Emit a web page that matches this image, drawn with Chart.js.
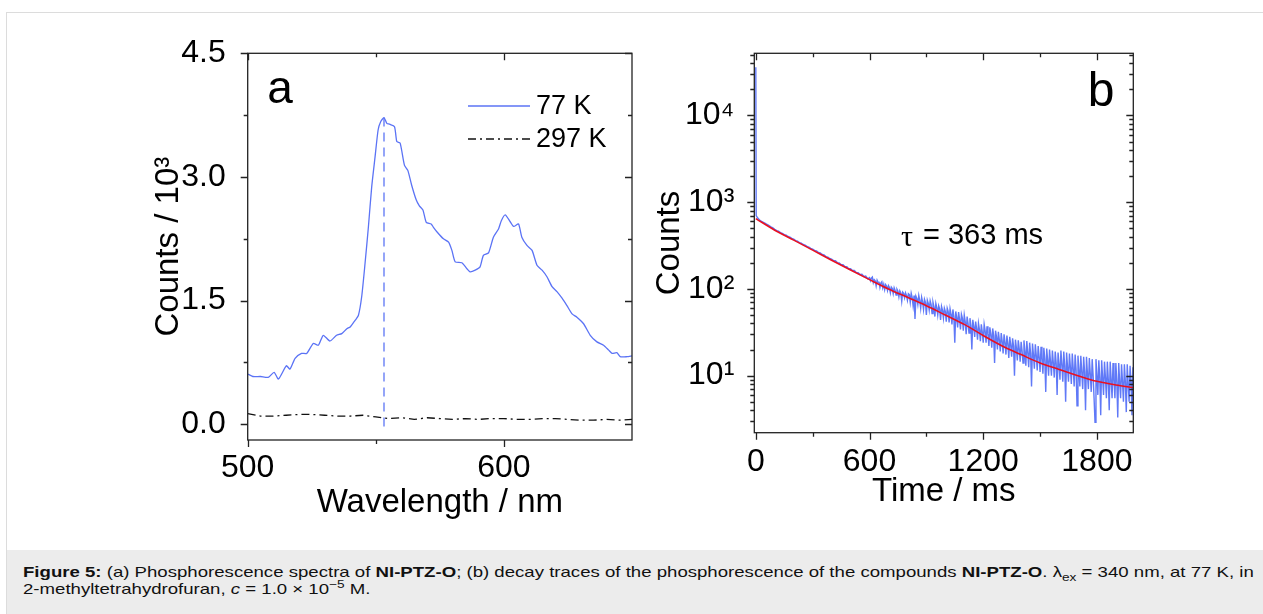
<!DOCTYPE html>
<html><head><meta charset="utf-8">
<script src="https://cdn.jsdelivr.net/npm/chart.js@4.4.1/dist/chart.umd.min.js"></script>
<style>
html,body{margin:0;padding:0;background:#fff;width:1263px;height:614px;overflow:hidden;font-family:"Liberation Sans",Arial,sans-serif;}
#frame{position:absolute;left:6px;top:12px;width:1280px;height:640px;border:1px solid #dcdcdc;box-sizing:border-box;}
#cap{position:absolute;left:7px;top:550px;width:1256px;height:64px;background:#ececec;}
#capText{position:absolute;left:23px;top:563px;font-size:15px;line-height:17px;color:#111;white-space:nowrap;transform:scaleX(1.24);transform-origin:0 0;}
#capText sub,#capText sup{font-size:11px;line-height:0;}
#ca{position:absolute;left:140px;top:30px;}
#cb{position:absolute;left:645px;top:30px;}
</style></head>
<body>
<div id="frame"></div>
<div id="cap"></div>
<div id="capText"><b>Figure 5:</b> (a) Phosphorescence spectra of <b>NI-PTZ-O</b>; (b) decay traces of the phosphorescence of the compounds <b>NI-PTZ-O</b>. λ<sub>ex</sub> = 340 nm, at 77 K, in<br>2-methyltetrahydrofuran, <i>c</i> = 1.0 × 10<sup>−5</sup> M.</div>
<canvas id="ca" width="510" height="510"></canvas>
<canvas id="cb" width="510" height="510"></canvas>
<script>
// ---------- Panel a data ----------
const wavelength77K = [500,502,505,508,510.3,512,515.1,516.5,518.5,521,523,525.6,527.6,529.5,532.1,534.7,536.7,538.7,540,541.9,543.2,544.5,545.8,547.1,548.4,549.7,550.9,551.9,553.2,554.3,555.4,557.3,558.2,559.5,561.2,562.5,564,565.8,567,568.4,569.7,571.6,572.5,574,576.4,578.4,579.7,581,583.6,585.5,586.8,588.8,590.7,592,594,595.9,597.9,599,600.5,602.4,603.8,605.7,607,609,611,612.9,614.9,616.8,618.8,620.7,622.7,624.6,626.6,628.5,631.1,633.7,636.3,638.9,640.9,642.2,644.1,645.4,648,650];
const counts77K = [0.61,0.58,0.58,0.57,0.63,0.55,0.71,0.67,0.80,0.86,0.86,0.98,0.96,1.08,1.01,1.08,1.10,1.16,1.18,1.26,1.32,1.55,1.95,2.39,2.88,3.24,3.57,3.67,3.72,3.65,3.64,3.61,3.43,3.41,3.14,3.08,2.90,2.72,2.65,2.60,2.45,2.43,2.39,2.33,2.25,2.21,2.11,1.97,1.96,1.89,1.85,1.87,1.91,2.05,2.08,2.27,2.37,2.47,2.54,2.46,2.40,2.43,2.27,2.17,2.11,1.93,1.87,1.79,1.67,1.61,1.53,1.44,1.34,1.30,1.22,1.08,1.00,0.96,0.90,0.86,0.87,0.82,0.82,0.83];
const wavelength297K = [500,505,510,515,520,525,530,535,540,545,550,555,560,565,570,575,580,585,590,595,600,605,610,615,620,625,630,635,640,645,650];
const counts297K = [0.13,0.10,0.10,0.11,0.12,0.12,0.11,0.10,0.10,0.11,0.09,0.07,0.08,0.06,0.08,0.07,0.06,0.07,0.06,0.07,0.07,0.06,0.06,0.07,0.07,0.06,0.05,0.05,0.06,0.05,0.06];
const peakWavelength = 553.2;
const peakLine = [3.72, -0.09];
const xTicksA = [500, 600];
const xMinorA = [550];
const yTicksA = [0, 1.5, 3.0, 4.5];
const yMinorA = [0.75, 2.25, 3.75];

// ---------- Panel b data ----------
const decayTime = [0,2,10,20,30,40,50,60,70,80,90,100,110,120,130,140,150,160,170,180,190,200,210,220,230,240,250,260,270,280,290,300,310,320,330,340,350,360,370,380,390,400,410,420,430,440,450,460,470,480,490,500,510,520,530,540,550,560,570,580,590,
600,605,610,615,620,625,630,635,640,645,650,655,660,665,670,675,680,685,690,695,700,705,710,715,720,725,730,735,740,745,750,755,760,765,770,775,780,785,790,795,800,
805,810,815,820,825,830,835,840,845,850,855,860,865,870,875,880,885,890,895,900,905,910,915,920,925,930,935,940,945,950,955,960,965,970,975,980,985,990,995,1000,
1005,1010,1015,1020,1025,1030,1035,1040,1045,1050,1055,1060,1065,1070,1075,1080,1085,1090,1095,1100,1105,1110,1115,1120,1125,1130,1135,1140,1145,1150,1155,1160,1165,1170,1175,1180,1185,1190,1195,1200,
1205,1210,1215,1220,1225,1230,1235,1240,1245,1250,1255,1260,1265,1270,1275,1280,1285,1290,1295,1300,1305,1310,1315,1320,1325,1330,1335,1340,1345,1350,1355,1360,1365,1370,1375,1380,1385,1390,1395,1400,
1405,1410,1415,1420,1425,1430,1435,1440,1445,1450,1455,1460,1465,1470,1475,1480,1485,1490,1495,1500,1505,1510,1515,1520,1525,1530,1535,1540,1545,1550,1555,1560,1565,1570,1575,1580,1585,1590,1595,1600,
1605,1610,1615,1620,1625,1630,1635,1640,1645,1650,1655,1660,1665,1670,1675,1680,1685,1690,1695,1700,1705,1710,1715,1720,1725,1730,1735,1740,1745,1750,1755,1760,1765,1770,1775,1780,1785,1790,1795,1800,
1805,1810,1815,1820,1825,1830,1835,1840,1845,1850,1855,1860,1865,1870,1875,1880,1885,1890,1895,1900,1905,1910,1915,1920,1925,1930,1935,1940,1945,1950,1955,1960,1965,1970,1975,1980,1985,1990];
const decayCounts = [36000,700,655,622,600,586,570,553,538,520,505,486,470,462,446,437,423,416,402,396,382,376,361,355,342,337,325,320,309,303,293,288,278,274,264,260,249,246,236,233,224,221,212,211,201,199,191,190,181,180,171,171,163,163,155,154,147,148,139,141,131,
135,124,133,137,118,128,124,108,126,119,121,104,117,121,103,113,98,112,108,96,109,104,90,105,101,88,103,96,85,99,94,81,95,90,72,92,89,79,90,84,74,
88,86,70,89,80,64,84,45,82,77,66,84,74,60,80,71,58,76,70,50,74,68,57,73,66,52,70,62,48,68,61,50,64,59,44,63,57,46,60,55,
42,60,55,41,59,51,39,58,48,24,55,47,36,54,45,34,51,46,33,50,42,30,48,40,31,46,38,20,44,37,28,42,35,26,40,34,25,39,32,24,
39,33,24,37,31,22,36,30,21,35,29,14,33,28,20,32,26,19,31,25,18,30,24,17.5,29,23.5,16,28,22.5,16.5,27,22,10,26,21,15,25.5,20.5,14.5,24.5,
19.5,14,25.5,19,13,25,18.5,12.5,24,18,7.5,23.5,17.5,12,23,17,11.5,22,16.5,11,21.5,16,10.5,21,15.5,6.5,20.5,15,10,20,14.5,10,19.5,14,9.5,19,14,6,18.5,13.5,
9,19.5,13.5,8.5,19,13,5,18.5,12.5,8.5,18,12.5,8,18,12,7.5,17.5,12,4.5,17,11.5,7.5,17,11,7,16.5,11,4,16.5,10.5,7,16,10.5,6.5,15.5,10,5.5,2.9,15.5,10,
6,15,9.5,3.5,15,9.5,6,14.5,9.5,5.5,14.5,9,4,14.5,9,5.5,14,9,5.5,14,8.5,3.3,14,8.5,5.5,13.5,8.5,5,13.5,8.5,3.8,13.5,8,5,13,8.5,3.5,12.5];
const fitTime = [0,100,200,300,400,500,600,700,800,900,1000,1100,1200,1300,1400,1500,1600,1700,1800,1900,1990];
const fitCounts = [646,475,365,280,214,165,128,100,80,64,50,39,29,22,17.5,14,11.8,10,8.6,7.8,7.3];
const xTicksB = [0, 600, 1200, 1800];
const xMinorB = [300, 900, 1500];
const yTicksB = [10, 100, 1000, 10000];
const yMinorB = [3,4,5,6,7,8,9,20,30,40,50,60,70,80,90,200,300,400,500,600,700,800,900,2000,3000,4000,5000,6000,7000,8000,9000,20000,30000,40000,50000];

// ---------- helpers ----------
const FONT = '"Liberation Sans", Arial, sans-serif';
Chart.defaults.font.family = FONT;
Chart.defaults.color = '#000';
const BLUE = '#5b73f5';
const sup = {'0':'⁰','1':'¹','2':'²','3':'³','4':'⁴','5':'⁵','6':'⁶','7':'⁷','8':'⁸','9':'⁹'};
const pts = (xs, ys) => xs.map((x, i) => ({x, y: ys[i]}));
const noPad = s => { s.paddingTop = 0; s.paddingBottom = 0; s.paddingLeft = 0; s.paddingRight = 0; };

const framePlugin = {
  id: 'frame',
  afterDraw(chart, args, o) {
    const {ctx, chartArea: {left, right, top, bottom}, scales: {x, y}} = chart;
    ctx.save();
    ctx.strokeStyle = '#222';
    ctx.lineWidth = 1.3;
    ctx.strokeRect(left, top, right - left, bottom - top);
    ctx.beginPath();
    const vx = (vals, len) => vals.forEach(v => {
      const p = Math.round(x.getPixelForValue(v)) + 0.5;
      ctx.moveTo(p, bottom); ctx.lineTo(p, bottom + len);
      ctx.moveTo(p, top); ctx.lineTo(p, top + len);
    });
    const vy = (vals, len) => vals.forEach(v => {
      const p = Math.round(y.getPixelForValue(v)) + 0.5;
      ctx.moveTo(left, p); ctx.lineTo(left - len, p);
      ctx.moveTo(right, p); ctx.lineTo(right - len, p);
    });
    vx(o.xMajor, o.major); vx(o.xMinor, o.minor);
    vy(o.yMajor, o.major); vy(o.yMinor, o.minor);
    ctx.stroke();
    ctx.restore();
  }
};

const annotPlugin = {
  id: 'annot',
  afterDraw(chart, args, o) {
    const ctx = chart.ctx;
    const ox = o.ox, oy = o.oy;
    ctx.save();
    (o.lines || []).forEach(l => {
      ctx.beginPath();
      ctx.strokeStyle = l.color; ctx.lineWidth = l.width;
      ctx.setLineDash(l.dash || []);
      ctx.moveTo(l.x1 - ox, l.y - oy); ctx.lineTo(l.x2 - ox, l.y - oy);
      ctx.stroke();
    });
    ctx.setLineDash([]);
    (o.texts || []).forEach(t => {
      ctx.font = t.font;
      ctx.fillStyle = '#000';
      ctx.textAlign = t.align || 'left';
      ctx.textBaseline = 'middle';
      ctx.fillText(t.text, t.x - ox, t.y - oy);
    });
    ctx.restore();
  }
};

// ---------- Chart a ----------
new Chart(document.getElementById('ca'), {
  type: 'line',
  data: {
    datasets: [
      {label: '297 K', data: pts(wavelength297K, counts297K), borderColor: '#111', borderWidth: 1.3, borderDash: [8, 4, 2, 4], pointRadius: 0},
      {label: 'peak', data: pts([peakWavelength, peakWavelength], peakLine), borderColor: BLUE, borderWidth: 1.3, borderDash: [9, 6], pointRadius: 0},
      {label: '77 K', data: pts(wavelength77K, counts77K), borderColor: BLUE, borderWidth: 1.3, pointRadius: 0, tension: 0.2}
    ]
  },
  options: {
    responsive: false, animation: false, devicePixelRatio: 1,
    layout: {padding: {top: 23.3, right: 18, bottom: 0, left: 0}},
    plugins: {
      legend: {display: false}, tooltip: {enabled: false},
      frame: {xMajor: xTicksA, xMinor: xMinorA, yMajor: yTicksA, yMinor: yMinorA, major: 7, minor: 4},
      annot: {
        ox: 140, oy: 30,
        lines: [
          {x1: 468, x2: 530, y: 106, color: BLUE, width: 1.3},
          {x1: 468, x2: 530, y: 139, color: '#111', width: 1.3, dash: [8, 4, 2, 4]}
        ],
        texts: [
          {text: 'a', x: 280, y: 90, font: '46px ' + FONT, align: 'center'},
          {text: '77 K', x: 536, y: 107, font: '27px ' + FONT},
          {text: '297 K', x: 536, y: 140, font: '27px ' + FONT}
        ]
      }
    },
    scales: {
      x: {
        type: 'linear', min: 500, max: 650,
        grid: {display: false}, border: {display: false},
        afterBuildTicks: s => { s.ticks = xTicksA.map(v => ({value: v})); },
        afterFit: s => { s.height = 100; noPad(s); },
        ticks: {font: {size: 32}, padding: 1, maxRotation: 0, autoSkip: false, callback: v => String(v)},
        title: {display: true, text: 'Wavelength / nm', font: {size: 33}, padding: {top: 0, bottom: 17}}
      },
      y: {
        type: 'linear', min: -0.19, max: 4.5,
        grid: {display: false}, border: {display: false},
        afterBuildTicks: s => { s.ticks = yTicksA.map(v => ({value: v})); },
        afterFit: s => { s.width = 107.7; noPad(s); },
        ticks: {font: {size: 32}, padding: 14, callback: v => Number(v).toFixed(1)},
        title: {display: true, text: 'Counts / 10³', font: {size: 33}, padding: {top: 9, bottom: 0}}
      }
    }
  },
  plugins: [framePlugin, annotPlugin]
});

// ---------- Chart b ----------
new Chart(document.getElementById('cb'), {
  type: 'line',
  data: {
    datasets: [
      {label: 'decay', data: pts(decayTime, decayCounts), borderColor: '#6079f7', borderWidth: 1.4, pointRadius: 0, order: 2},
      {label: 'fit', data: pts(fitTime, fitCounts), borderColor: '#ea1020', borderWidth: 1.6, pointRadius: 0, cubicInterpolationMode: 'monotone', order: 1}
    ]
  },
  options: {
    responsive: false, animation: false, devicePixelRatio: 1,
    layout: {padding: {top: 23.3, right: 21.7, bottom: 0, left: 0}},
    plugins: {
      legend: {display: false}, tooltip: {enabled: false},
      frame: {xMajor: xTicksB, xMinor: xMinorB, yMajor: yTicksB, yMinor: yMinorB, major: 7, minor: 4},
      annot: {
        ox: 645, oy: 30,
        texts: [
          {text: 'b', x: 1101, y: 93, font: '48px ' + FONT, align: 'center'},
          {text: 'τ', x: 901, y: 238, font: '30px "Liberation Serif", serif'},
          {text: '= 363 ms', x: 923, y: 236, font: '29px ' + FONT}
        ]
      }
    },
    scales: {
      x: {
        type: 'linear', min: -8, max: 1992,
        grid: {display: false}, border: {display: false},
        afterBuildTicks: s => { s.ticks = xTicksB.map(v => ({value: v})); },
        afterFit: s => { s.height = 107.3; noPad(s); },
        ticks: {font: {size: 32}, padding: 2, maxRotation: 0, autoSkip: false, callback: v => String(v)},
        title: {display: true, text: 'Time / ms', font: {size: 33}, padding: {top: 0, bottom: 28}}
      },
      y: {
        type: 'logarithmic', min: 2.2, max: 52000,
        grid: {display: false}, border: {display: false},
        afterBuildTicks: s => { s.ticks = yTicksB.map(v => ({value: v})); },
        afterFit: s => { s.width = 109.3; noPad(s); },
        ticks: {font: {size: 32}, padding: 12, callback: v => '10' + String(Math.round(Math.log10(v))).split('').map(c => sup[c]).join('')},
        title: {display: true, text: 'Counts', font: {size: 33}, padding: {top: 5, bottom: 0}}
      }
    }
  },
  plugins: [framePlugin, annotPlugin]
});
</script>
</body></html>
